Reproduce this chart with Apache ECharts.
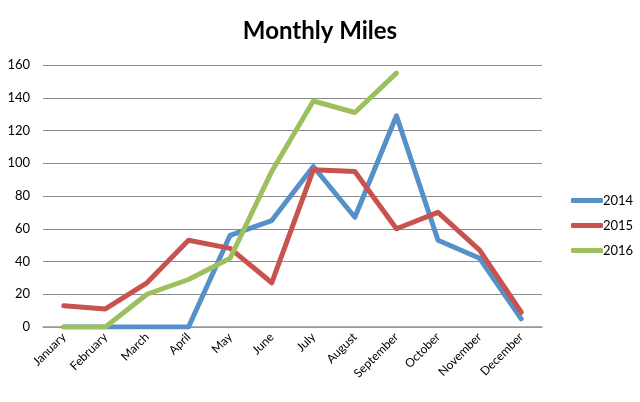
<!DOCTYPE html>
<html><head><meta charset="utf-8">
<script src="https://cdn.jsdelivr.net/npm/echarts@6/dist/echarts.min.js"></script>
<style>html,body{margin:0;padding:0;background:#fff}#c{width:640px;height:402px}</style>
</head><body><div id="c"></div>
<script>
const months = ["January","February","March","April","May","June","July","August","September","October","November","December"];
const s2014 = [0,0,0,0,56,65,98,67,129,53,42,5];
const s2015 = [13,11,27,53,48,27,96,95,60,70,47,9];
const s2016 = [0,0,20,29,42,95,138,131,155];
const yTicks = [0,20,40,60,80,100,120,140,160];
const FONT = 'Lato, "Liberation Sans", sans-serif';
const chart = echarts.init(document.getElementById('c'));
const mk = (name, data, color) => ({
  name, type:'line', data, symbol:'none', smooth:false,
  lineStyle:{width:5, color, cap:'round', join:'round'}, itemStyle:{color}
});
chart.setOption({
  animation:false,
  title:{text:'Monthly Miles', left:'center', top:14,
    textStyle:{fontFamily:FONT, fontSize:24, fontWeight:'bold', color:'#000'}},
  legend:{orient:'vertical', left:566, top:189, itemGap:12, itemWidth:32, itemHeight:5,
    icon:'roundRect',
    textStyle:{fontFamily:FONT, fontSize:13, color:'#000', padding:[0,0,0,-5]}},
  grid:{left:43, right:98, top:65, bottom:75, containLabel:false},
  xAxis:{type:'category', data:months, boundaryGap:true,
    axisLine:{lineStyle:{color:'#999', width:1.5}}, axisTick:{show:false},
    axisLabel:{rotate:45, interval:0, fontFamily:FONT, fontSize:12, color:'#000', margin:8}},
  yAxis:{type:'value', min:yTicks[0], max:yTicks[yTicks.length-1], interval:20,
    axisLine:{show:false}, axisTick:{show:false},
    axisLabel:{fontFamily:FONT, fontSize:13, color:'#000', margin:13}},
  series:[mk('2014', s2014, '#5690C8'), mk('2015', s2015, '#C8524E'), mk('2016', s2016, '#9DC05E')]
});
chart.setOption({yAxis:{splitLine:{lineStyle:{color:'#8c8c8c', width:1.2}}}});
</script></body></html>
